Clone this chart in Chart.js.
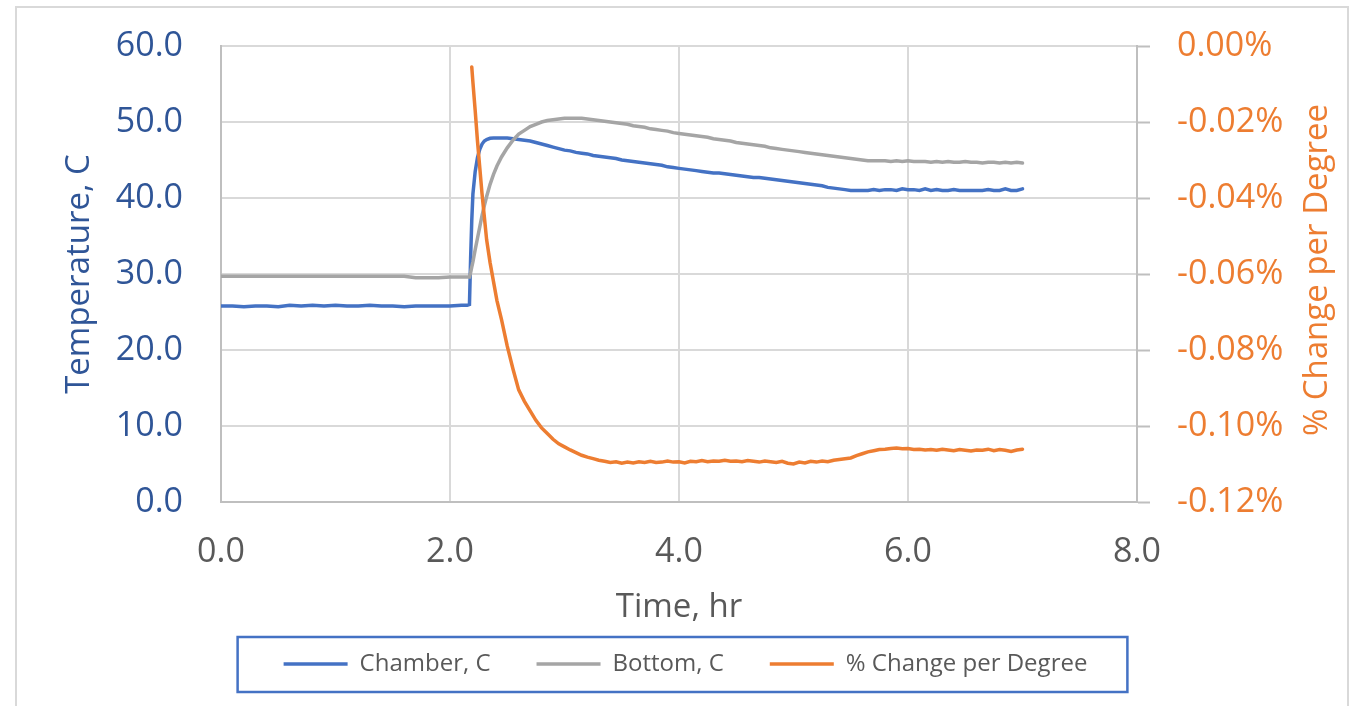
<!DOCTYPE html>
<html>
<head>
<meta charset="utf-8">
<script src="https://cdn.jsdelivr.net/npm/chart.js@4.4.1/dist/chart.umd.min.js"></script>
<style>
  body { margin: 0; background: #fff; }
  #box { width: 1351px; height: 706px; }
</style>
</head>
<body>
<div id="box"><canvas id="chart"></canvas></div>
<script>
// time, hr
const hours = [
  0.0, 0.1, 0.2, 0.3, 0.4, 0.5, 0.6, 0.7, 0.8, 0.9,
  1.0, 1.1, 1.2, 1.3, 1.4, 1.5, 1.6, 1.7, 1.8, 1.9,
  2.0, 2.1, 2.15,
  2.17, 2.18, 2.19, 2.20, 2.22, 2.24, 2.26, 2.28, 2.30, 2.32, 2.35, 2.38, 2.41, 2.45, 2.50, 2.55, 2.60,
  2.65, 2.70, 2.75, 2.80, 2.85, 2.90, 2.95, 3.00, 3.05, 3.10,
  3.15, 3.20, 3.25, 3.30, 3.35, 3.40, 3.45, 3.50, 3.55, 3.60,
  3.65, 3.70, 3.75, 3.80, 3.85, 3.90, 3.95, 4.00, 4.05, 4.10,
  4.15, 4.20, 4.25, 4.30, 4.35, 4.40, 4.45, 4.50, 4.55, 4.60,
  4.65, 4.70, 4.75, 4.80, 4.85, 4.90, 4.95, 5.00, 5.05, 5.10,
  5.15, 5.20, 5.25, 5.30, 5.35, 5.40, 5.45, 5.50, 5.55, 5.60,
  5.65, 5.70, 5.75, 5.80, 5.85, 5.90, 5.95, 6.00, 6.05, 6.10,
  6.15, 6.20, 6.25, 6.30, 6.35, 6.40, 6.45, 6.50, 6.55, 6.60,
  6.65, 6.70, 6.75, 6.80, 6.85, 6.90, 6.95, 7.00
]

// Chamber, C
const chamber = [
  25.8, 25.8, 25.7, 25.8, 25.8, 25.7, 25.9, 25.8, 25.9, 25.8,
  25.9, 25.8, 25.8, 25.9, 25.8, 25.8, 25.7, 25.8, 25.8, 25.8,
  25.8, 25.9, 25.9,
  26.0, 32.0, 37.0, 40.5, 43.5, 45.3, 46.4, 47.1, 47.5, 47.7, 47.85, 47.9, 47.9, 47.9, 47.9, 47.8, 47.7,
  47.6, 47.5, 47.3, 47.1, 46.9, 46.7, 46.5, 46.3, 46.2, 46.0,
  45.9, 45.8, 45.6, 45.5, 45.4, 45.3, 45.2, 45.0, 44.9, 44.8,
  44.7, 44.6, 44.5, 44.4, 44.3, 44.1, 44.0, 43.9, 43.8, 43.7,
  43.6, 43.5, 43.4, 43.3, 43.3, 43.2, 43.1, 43.0, 42.9, 42.8,
  42.7, 42.7, 42.6, 42.5, 42.4, 42.3, 42.2, 42.1, 42.0, 41.9,
  41.8, 41.7, 41.6, 41.4, 41.3, 41.2, 41.1, 41.0, 41.0, 41.0,
  41.0, 41.1, 41.0, 41.1, 41.1, 41.0, 41.2, 41.1, 41.1, 41.0,
  41.2, 41.0, 41.1, 41.0, 41.0, 41.1, 41.0, 41.0, 41.0, 41.0,
  41.0, 41.1, 41.0, 41.0, 41.2, 41.0, 41.0, 41.2
]

// Bottom, C
const bottom = [
  29.7, 29.7, 29.7, 29.7, 29.7, 29.7, 29.7, 29.7, 29.7, 29.7,
  29.7, 29.7, 29.7, 29.7, 29.7, 29.7, 29.7, 29.5, 29.5, 29.5,
  29.6, 29.6, 29.6,
  29.6, 30.2, 30.9, 31.6, 33.2, 34.7, 36.2, 37.7, 39.0, 40.2, 41.8, 43.1, 44.2, 45.4, 46.6, 47.6, 48.4,
  48.9, 49.4, 49.7, 50.0, 50.2, 50.3, 50.4, 50.5, 50.5, 50.5,
  50.5, 50.4, 50.3, 50.2, 50.1, 50.0, 49.9, 49.8, 49.7, 49.5,
  49.4, 49.3, 49.1, 49.0, 48.9, 48.8, 48.6, 48.5, 48.4, 48.3,
  48.2, 48.1, 48.0, 47.8, 47.7, 47.6, 47.5, 47.3, 47.2, 47.1,
  47.0, 46.9, 46.8, 46.6, 46.5, 46.4, 46.3, 46.2, 46.1, 46.0,
  45.9, 45.8, 45.7, 45.6, 45.5, 45.4, 45.3, 45.2, 45.1, 45.0,
  44.9, 44.9, 44.9, 44.9, 44.8, 44.9, 44.8, 44.9, 44.8, 44.8,
  44.8, 44.7, 44.8, 44.7, 44.8, 44.7, 44.7, 44.8, 44.7, 44.7,
  44.6, 44.7, 44.7, 44.6, 44.7, 44.6, 44.7, 44.6
]

// % Change per Degree (in percent)
const change = [
  null, null, null, null, null, null, null, null, null, null,
  null, null, null, null, null, null, null, null, null, null,
  null, null, null,
  null, null, -0.0055, -0.0095, -0.017, -0.025, -0.032, -0.039, -0.045, -0.051, -0.057, -0.062, -0.067, -0.072, -0.079, -0.085, -0.0905,
  -0.0935, -0.0960, -0.0985, -0.1005, -0.1020, -0.1035, -0.1047, -0.1055, -0.1063, -0.1070,
  -0.1077, -0.1082, -0.1086, -0.1090, -0.1093, -0.1096, -0.1094, -0.1098, -0.1095, -0.1097,
  -0.1094, -0.1096, -0.1093, -0.1096, -0.1095, -0.1092, -0.1095, -0.1094, -0.1097, -0.1093,
  -0.1094, -0.1091, -0.1094, -0.1092, -0.1093, -0.1090, -0.1093, -0.1092, -0.1094, -0.1091,
  -0.1093, -0.1095, -0.1092, -0.1094, -0.1096, -0.1093, -0.1098, -0.1100, -0.1095, -0.1097,
  -0.1093, -0.1095, -0.1092, -0.1094, -0.1090, -0.1088, -0.1086, -0.1084, -0.1078, -0.1073,
  -0.1068, -0.1065, -0.1062, -0.1061, -0.1059, -0.1058, -0.1060, -0.1059, -0.1062, -0.1061,
  -0.1063, -0.1062, -0.1064, -0.1061, -0.1063, -0.1065, -0.1062, -0.1064, -0.1066, -0.1063,
  -0.1064, -0.1061, -0.1065, -0.1062, -0.1064, -0.1067, -0.1063, -0.1061
]

const BLUE = '#4472C4'
const GRAY = '#A5A5A5'
const ORANGE = '#ED7D31'

Chart.defaults.font.family = "'Open Sans', sans-serif"

const pts = arr => hours.map((h, i) => ({ x: h, y: arr[i] }))

// light grey frame round the whole chart
const frame = {
    id: 'frame',
    beforeDraw(chart) {
        const ctx = chart.ctx
        ctx.save()
        ctx.strokeStyle = '#D9D9D9'
        ctx.lineWidth = 2
        ctx.strokeRect(16, 7, 1332, 740)
        ctx.restore()
    }
}

// blue box round the legend
const legendBox = {
    id: 'legendBox',
    afterDraw(chart) {
        const hb = chart.legend.legendHitBoxes
        if (!hb || !hb.length) return
        const first = hb[0], last = hb[hb.length - 1]
        const cy = first.top + first.height / 2
        const ctx = chart.ctx
        ctx.save()
        ctx.strokeStyle = BLUE
        ctx.lineWidth = 2.5
        ctx.strokeRect(first.left - 46, cy - 27, last.left + last.width - first.left + 86, 55)
        ctx.restore()
    }
}

// right axis title reads bottom to top, like the left one
const rightTitle = {
    id: 'rightTitle',
    afterDraw(chart) {
        const s = chart.scales.y1
        const ctx = chart.ctx
        ctx.save()
        ctx.translate(s.right - 33, (s.top + s.bottom) / 2 - 4)
        ctx.rotate(-Math.PI / 2)
        ctx.textAlign = 'center'
        ctx.textBaseline = 'middle'
        ctx.fillStyle = ORANGE
        ctx.font = "33px 'Open Sans', sans-serif"
        ctx.fillText('% Change per Degree', 0, 0)
        ctx.restore()
    }
}

new Chart(document.getElementById('chart'), {
    type: 'line',
    data: {
        datasets: [
            {
                label: 'Chamber, C',
                data: pts(chamber),
                borderColor: BLUE,
                backgroundColor: BLUE,
                borderWidth: 3.5,
                borderCapStyle: 'round',
                pointRadius: 0,
                yAxisID: 'y',
                order: 3
            },
            {
                label: 'Bottom, C',
                data: pts(bottom),
                borderColor: GRAY,
                backgroundColor: GRAY,
                borderWidth: 3.5,
                borderCapStyle: 'round',
                pointRadius: 0,
                yAxisID: 'y',
                order: 2
            },
            {
                label: '% Change per Degree',
                data: pts(change),
                borderColor: ORANGE,
                backgroundColor: ORANGE,
                borderWidth: 3.5,
                borderCapStyle: 'round',
                pointRadius: 0,
                yAxisID: 'y1',
                order: 1
            }
        ]
    },
    options: {
        responsive: true,
        maintainAspectRatio: false,
        animation: false,
        devicePixelRatio: 1,
        layout: { autoPadding: false, padding: { top: 46, bottom: 20, left: 20, right: 0 } },
        plugins: {
            tooltip: { enabled: false },
            legend: {
                position: 'bottom',
                labels: {
                    usePointStyle: true,
                    pointStyle: 'line',
                    pointStyleWidth: 64,
                    padding: 46,
                    color: '#595959',
                    font: { size: 24 },
                    sort: (a, b) => a.datasetIndex - b.datasetIndex
                }
            }
        },
        scales: {
            x: {
                type: 'linear',
                min: 0,
                max: 8,
                afterFit: s => { s.height = 104 },
                ticks: {
                    stepSize: 2,
                    padding: 30,
                    color: '#595959',
                    font: { size: 34 },
                    callback: v => v.toFixed(1)
                },
                grid: { color: '#D9D9D9', lineWidth: 2, drawTicks: false },
                border: { color: '#BFBFBF', width: 2 },
                title: {
                    display: true,
                    text: 'Time, hr',
                    color: '#595959',
                    font: { size: 33 },
                    padding: { top: 0, bottom: -21 }
                }
            },
            y: {
                position: 'left',
                min: 0,
                max: 60,
                afterFit: s => { s.width = 201; s.paddingTop = 0; s.paddingBottom = 0 },
                ticks: {
                    stepSize: 10,
                    padding: 38,
                    color: '#2F5597',
                    font: { size: 34 },
                    callback: v => v.toFixed(1)
                },
                grid: { color: '#D9D9D9', lineWidth: 2, drawTicks: false },
                border: { color: '#BFBFBF', width: 2 },
                title: {
                    display: true,
                    text: 'Temperature, C',
                    color: '#2F5597',
                    font: { size: 33 },
                    padding: { top: 40, bottom: 0 }
                }
            },
            y1: {
                position: 'right',
                min: -0.12,
                max: 0,
                afterFit: s => { s.width = 214; s.paddingTop = 0; s.paddingBottom = 0 },
                ticks: {
                    stepSize: 0.02,
                    padding: 27,
                    color: ORANGE,
                    font: { size: 34 },
                    callback: v => (Math.abs(v) < 1e-9 ? 0 : v).toFixed(2) + '%'
                },
                grid: { drawOnChartArea: false, drawTicks: true, tickLength: 13, tickColor: '#BFBFBF', tickWidth: 2 },
                border: { color: '#BFBFBF', width: 2 }
            }
        }
    },
    plugins: [frame, legendBox, rightTitle]
})
</script>
</body>
</html>
